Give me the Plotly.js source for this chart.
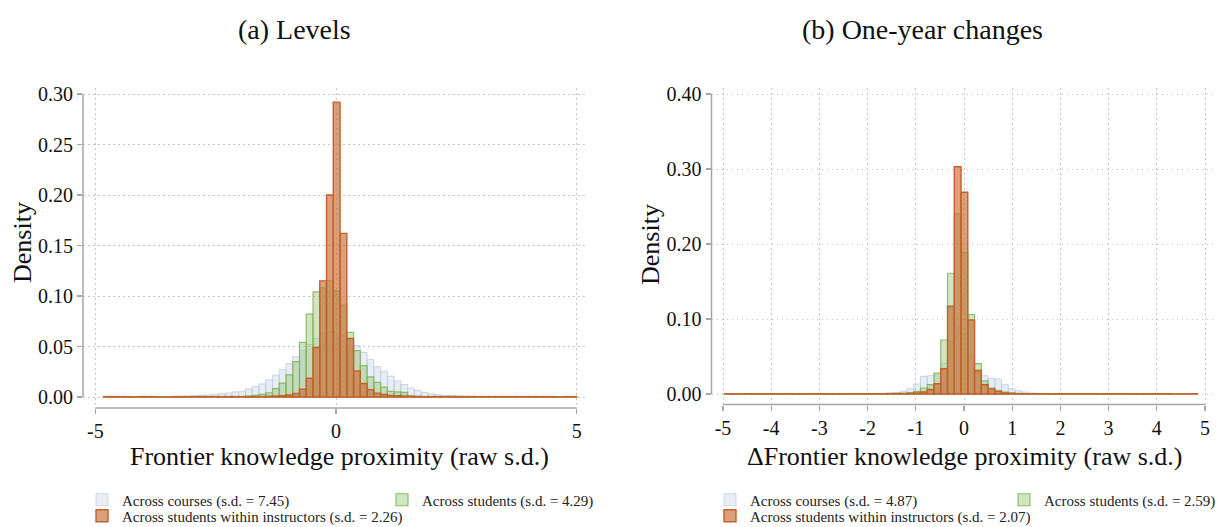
<!DOCTYPE html>
<html>
<head>
<meta charset="utf-8">
<script src="https://cdn.plot.ly/plotly-3.0.1.min.js"></script>
<style>html,body{margin:0;padding:0;background:#fff;}#chart{width:1222px;height:527px;}</style>
</head>
<body>
<div id="chart"></div>
<script>
// ---------- DATA ----------
// Bin definitions (70 equal-width bins per panel)
const levelsBinStart = -4.83, levelsBinWidth = 0.1404;
const changesBinStart = -4.965, changesBinWidth = 0.1401;

// Panel (a) Levels: densities per bin
const levelsCourses = [
  0.0004,0.0004,0.0004,0.0004,0.0004,0.0004,0.0004,0.0004,0.0004,0.0004,
  0.0004,0.0008,0.0010,0.0012,0.0016,0.0020,0.0026,0.0033,0.0040,0.0050,
  0.0056,0.0080,0.0105,0.0130,0.0170,0.0216,0.0270,0.0330,0.0400,0.0460,
  0.0520,0.0580,0.0630,0.0650,0.0640,0.0610,0.0570,0.0510,0.0440,0.0370,
  0.0300,0.0255,0.0206,0.0160,0.0124,0.0088,0.0065,0.0046,0.0033,0.0023,
  0.0016,0.0013,0.0010,0.0008,0.0006,0.0004,0.0004,0.0004,0.0004,0.0004,
  0.0004,0.0004,0.0004,0.0004,0.0004,0.0004,0.0004,0.0004,0.0004,0.0004
];
const levelsStudents = [
  0.0004,0.0004,0.0004,0.0004,0.0004,0.0004,0.0004,0.0004,0.0004,0.0004,
  0.0004,0.0004,0.0004,0.0004,0.0004,0.0004,0.0004,0.0004,0.0004,0.0004,
  0.0004,0.0010,0.0016,0.0026,0.0042,0.0082,0.0137,0.0220,0.0350,0.0540,
  0.0820,0.1040,0.1080,0.1150,0.1050,0.0910,0.0640,0.0460,0.0310,0.0200,
  0.0144,0.0098,0.0056,0.0050,0.0046,0.0010,0.0007,0.0004,0.0004,0.0004,
  0.0004,0.0004,0.0004,0.0004,0.0004,0.0004,0.0004,0.0004,0.0004,0.0004,
  0.0004,0.0004,0.0004,0.0004,0.0004,0.0004,0.0004,0.0004,0.0004,0.0004
];
const levelsWithin = [
  0.0004,0.0004,0.0004,0.0004,0,0.0004,0.0004,0.0004,0,0,
  0.0004,0.0004,0.0004,0.0004,0.0004,0.0004,0.0004,0.0004,0.0004,0.0004,
  0.0004,0.0004,0.0004,0.0004,0.0007,0.0010,0.0013,0.0020,0.0036,0.0078,
  0.0185,0.0490,0.1150,0.2000,0.2920,0.1620,0.0580,0.0258,0.0134,0.0073,
  0.0038,0.0025,0.0016,0.0013,0.0010,0.0007,0.0004,0.0004,0.0004,0.0004,
  0.0004,0.0004,0.0004,0.0004,0.0004,0.0004,0.0004,0.0004,0.0004,0.0004,
  0.0004,0.0004,0.0004,0.0004,0.0004,0.0004,0.0004,0,0.0004,0.0004
];

// Panel (b) One-year changes: densities per bin
const changesCourses = [
  0.0004,0.0004,0.0004,0.0004,0.0004,0.0004,0.0004,0.0004,0.0004,0.0004,
  0.0004,0.0004,0.0004,0.0004,0.0004,0.0004,0.0004,0.0004,0.0004,0.0004,
  0.0004,0.0004,0.0008,0.0010,0.0013,0.0022,0.0036,0.0071,0.0133,0.0236,
  0.0244,0.0270,0.0410,0.0700,0.0900,0.0800,0.0500,0.0300,0.0244,0.0210,
  0.0200,0.0124,0.0071,0.0044,0.0027,0.0013,0.0008,0.0006,0.0004,0.0004,
  0.0004,0.0004,0.0004,0.0004,0.0004,0.0004,0.0004,0.0004,0.0004,0.0004,
  0.0004,0.0004,0.0004,0.0004,0.0004,0.0004,0.0004,0.0004,0.0004,0.0004
];
const changesStudents = [
  0.0004,0.0004,0.0004,0.0004,0.0004,0.0004,0.0004,0.0004,0.0004,0.0004,
  0.0004,0.0004,0.0004,0.0004,0.0004,0.0004,0.0004,0.0004,0.0004,0.0004,
  0.0004,0.0004,0.0004,0.0004,0.0008,0.0010,0.0013,0.0020,0.0036,0.0080,
  0.0124,0.0280,0.0720,0.1610,0.2400,0.1885,0.1060,0.0405,0.0176,0.0080,
  0.0050,0.0026,0.0015,0.0010,0.0007,0.0004,0.0004,0.0004,0.0004,0.0004,
  0.0004,0.0004,0.0004,0.0004,0.0004,0.0004,0.0004,0.0004,0.0004,0.0004,
  0.0004,0.0004,0.0004,0.0004,0.0004,0.0004,0,0.0004,0.0004,0.0004
];
const changesWithin = [
  0.0004,0.0004,0,0.0004,0.0004,0.0004,0.0004,0.0004,0.0004,0.0004,
  0.0004,0.0004,0.0004,0.0004,0.0004,0.0004,0.0004,0.0004,0.0004,0.0004,
  0.0004,0.0004,0.0004,0.0004,0.0004,0.0004,0.0004,0.0008,0.0013,0.0026,
  0.0060,0.0137,0.0336,0.1170,0.3030,0.2690,0.0987,0.0314,0.0124,0.0068,
  0.0035,0.0013,0.0008,0.0004,0.0004,0.0004,0.0004,0.0004,0.0004,0.0004,
  0.0004,0.0004,0.0004,0.0004,0.0004,0.0004,0.0004,0.0004,0.0004,0.0004,
  0.0004,0.0004,0.0004,0.0004,0.0004,0.0004,0,0,0,0.0004
];

// Labels
const panelTitles = ["(a) Levels", "(b) One-year changes"];
const xTitles = ["Frontier knowledge proximity (raw s.d.)", "\u0394Frontier knowledge proximity (raw s.d.)"];
const yTitle = "Density";
const levelsNames = ["Across courses (s.d. = 7.45)", "Across students (s.d. = 4.29)", "Across students within instructors (s.d. = 2.26)"];
const changesNames = ["Across courses (s.d. = 4.87)", "Across students (s.d. = 2.59)", "Across students within instructors (s.d. = 2.07)"];
const levelsXTickVals = [-5, 0, 5];
const levelsXTickText = ["-5", "0", "5"];
const changesXTickVals = [-5, -4, -3, -2, -1, 0, 1, 2, 3, 4, 5];
const changesXTickText = ["-5", "-4", "-3", "-2", "-1", "0", "1", "2", "3", "4", "5"];
const levelsYTickVals = [0, 0.05, 0.10, 0.15, 0.20, 0.25, 0.30];
const levelsYTickText = ["0.00", "0.05", "0.10", "0.15", "0.20", "0.25", "0.30"];
const changesYTickVals = [0, 0.1, 0.2, 0.3, 0.4];
const changesYTickText = ["0.00", "0.10", "0.20", "0.30", "0.40"];

// ---------- STYLE ----------
const W = 1222, H = 527;
const FONT = "'Liberation Serif', 'Times New Roman', serif";
const styles = [
  {fill: "rgba(185,198,222,0.32)", line: "rgba(190,202,225,0.75)", lw: 1},
  {fill: "rgba(140,190,100,0.40)", line: "rgba(125,180,85,0.85)", lw: 1.2},
  {fill: "rgba(200,110,55,0.66)", line: "rgb(194,98,42)", lw: 1.4}
];

function centers(start, width, n) {
  const c = [];
  for (let i = 0; i < n; i++) c.push(start + width * (i + 0.5));
  return c;
}

const traces = [];
const panels = [
  {series: [levelsCourses, levelsStudents, levelsWithin], names: levelsNames, start: levelsBinStart, width: levelsBinWidth, xa: "x", ya: "y", legends: ["legend", "legend2", "legend3"]},
  {series: [changesCourses, changesStudents, changesWithin], names: changesNames, start: changesBinStart, width: changesBinWidth, xa: "x2", ya: "y2", legends: ["legend4", "legend5", "legend6"]}
];
panels.forEach(p => {
  p.series.forEach((vals, i) => {
    traces.push({
      type: "bar",
      x: centers(p.start, p.width, vals.length),
      y: vals,
      width: p.width,
      name: p.names[i],
      xaxis: p.xa, yaxis: p.ya,
      legend: p.legends[i],
      marker: {color: styles[i].fill, line: {color: styles[i].line, width: styles[i].lw}},
      hoverinfo: "skip"
    });
  });
});

function px(x) { return x / W; }
function py(y) { return 1 - y / H; }

const gridStyle = {showgrid: true, gridcolor: "#c4c4c4", griddash: "1.5px,3.5px", gridwidth: 1, zeroline: false, showline: false,
  ticks: "outside", ticklen: 5, tickwidth: 1.3, tickcolor: "#a6a6a6", tickfont: {family: FONT, size: 20, color: "#111"}, fixedrange: true, automargin: false};

// panel geometry (pixels)
const L = {left: 83, right: 587, top: 88, bottom: 408, xm5: 95.3, x5: 576.7, y0: 397, yTop: 94, yTopVal: 0.30};
const R = {left: 711.5, right: 1214, top: 88, bottom: 404.5, xm5: 723, x5: 1205, y0: 394, yTop: 94, yTopVal: 0.40};
function xr(g) { const s = (g.x5 - g.xm5) / 10; return [-5 - (g.xm5 - g.left) / s, 5 + (g.right - g.x5) / s]; }
function yr(g) { const s = (g.y0 - g.yTop) / g.yTopVal; return [-(g.bottom - g.y0) / s, g.yTopVal + (g.yTop - g.top) / s]; }

const legendBase = {orientation: "v", xanchor: "left", yanchor: "middle", bgcolor: "rgba(0,0,0,0)", borderwidth: 0,
  font: {family: FONT, size: 15, color: "#222"}, itemwidth: 30, itemclick: false, itemdoubleclick: false};

const ROW1 = 500, ROW2 = 516;
const layout = {
  width: W, height: H,
  margin: {l: 0, r: 0, t: 0, b: 0, autoexpand: false},
  paper_bgcolor: "#fff", plot_bgcolor: "#fff",
  barmode: "overlay", bargap: 0,
  showlegend: true,
  xaxis: Object.assign({}, gridStyle, {domain: [px(L.left), px(L.right)], range: xr(L), tickvals: levelsXTickVals, ticktext: levelsXTickText, anchor: "y"}),
  yaxis: Object.assign({}, gridStyle, {domain: [py(L.bottom), py(L.top)], range: yr(L), tickvals: levelsYTickVals, ticktext: levelsYTickText, anchor: "x"}),
  xaxis2: Object.assign({}, gridStyle, {domain: [px(R.left), px(R.right)], range: xr(R), tickvals: changesXTickVals, ticktext: changesXTickText, anchor: "y2"}),
  yaxis2: Object.assign({}, gridStyle, {domain: [py(R.bottom), py(R.top)], range: yr(R), tickvals: changesYTickVals, ticktext: changesYTickText, anchor: "x2"}),
  legend: Object.assign({}, legendBase, {x: px(82), y: py(ROW1)}),
  legend2: Object.assign({}, legendBase, {x: px(382), y: py(ROW1)}),
  legend3: Object.assign({}, legendBase, {x: px(82), y: py(ROW2)}),
  legend4: Object.assign({}, legendBase, {x: px(710), y: py(ROW1)}),
  legend5: Object.assign({}, legendBase, {x: px(1004), y: py(ROW1)}),
  legend6: Object.assign({}, legendBase, {x: px(710), y: py(ROW2)}),
  shapes: [
    {type: "line", xref: "x", yref: "y domain", x0: -5, x1: 5, y0: 0, y1: 0, line: {color: "#a6a6a6", width: 1.5}},
    {type: "line", xref: "x domain", yref: "y", x0: 0, x1: 0, y0: 0, y1: 0.30, line: {color: "#a6a6a6", width: 1.5}},
    {type: "line", xref: "x2", yref: "y2 domain", x0: -5, x1: 5, y0: 0, y1: 0, line: {color: "#a6a6a6", width: 1.5}},
    {type: "line", xref: "x2 domain", yref: "y2", x0: 0, x1: 0, y0: 0, y1: 0.40, line: {color: "#a6a6a6", width: 1.5}}
  ],
  annotations: [
    {text: panelTitles[0], xref: "paper", yref: "paper", x: px(294), y: py(30), xanchor: "center", yanchor: "middle", showarrow: false, font: {family: FONT, size: 28, color: "#111"}},
    {text: panelTitles[1], xref: "paper", yref: "paper", x: px(922), y: py(30), xanchor: "center", yanchor: "middle", showarrow: false, font: {family: FONT, size: 28, color: "#111"}},
    {text: xTitles[0], xref: "paper", yref: "paper", x: px(339), y: py(456), xanchor: "center", yanchor: "middle", showarrow: false, font: {family: FONT, size: 26, color: "#111"}},
    {text: xTitles[1], xref: "paper", yref: "paper", x: px(964.5), y: py(456), xanchor: "center", yanchor: "middle", showarrow: false, font: {family: FONT, size: 26, color: "#111"}},
    {text: yTitle, xref: "paper", yref: "paper", x: px(22), y: py(243), xanchor: "center", yanchor: "middle", textangle: -90, showarrow: false, font: {family: FONT, size: 26, color: "#111"}},
    {text: yTitle, xref: "paper", yref: "paper", x: px(651), y: py(245), xanchor: "center", yanchor: "middle", textangle: -90, showarrow: false, font: {family: FONT, size: 26, color: "#111"}}
  ]
};

Plotly.newPlot("chart", traces, layout, {displayModeBar: false, staticPlot: true});
</script>
</body>
</html>
